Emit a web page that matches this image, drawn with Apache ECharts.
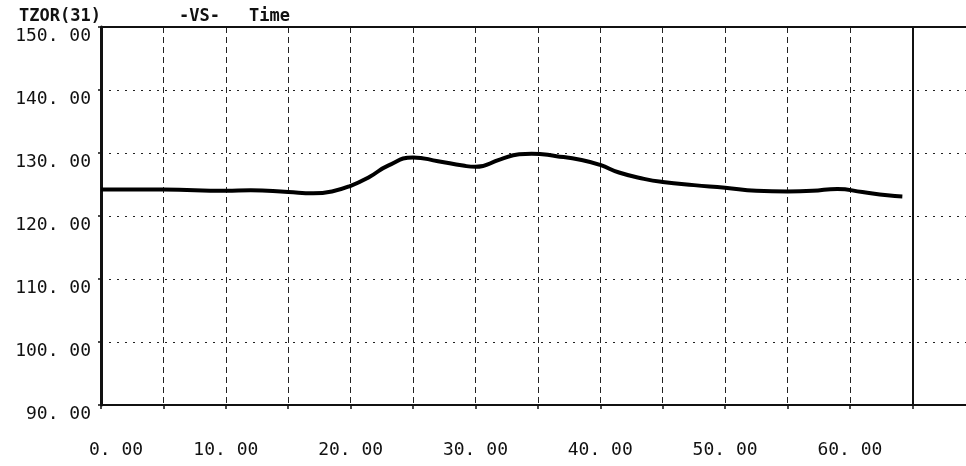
<!doctype html>
<html>
<head>
<meta charset="utf-8">
<title>TZOR(31) -VS- Time</title>
<script type="text/javascript" src="https://cdn.jsdelivr.net/npm/echarts@6/dist/echarts.min.js"></script>
</head>
<body style="margin:0;padding:0;background:#fff">
<div id="tb" style="width:966px;height:466px;"></div>
<script>
// 读图得到的数据
var timeVals = [0, 5, 10, 12, 15, 17, 18.5, 20, 21.5, 23, 25, 27, 29, 30, 32, 33.5, 34.5, 36.5, 38.5, 40, 41.5, 43.5, 45, 47.5, 50, 52.5, 55, 57, 59, 61, 63, 64.2];
var tzorVals = [124.2, 124.2, 124.0, 124.1, 123.8, 123.6, 123.9, 124.8, 126.2, 128.0, 129.3, 128.7, 128.0, 127.8, 129.0, 129.8, 129.9, 129.5, 128.9, 128.1, 126.9, 125.9, 125.4, 124.9, 124.5, 124.0, 123.9, 124.0, 124.3, 123.8, 123.3, 123.1];
var xLabelVals = [0, 10, 20, 30, 40, 50, 60];

var points = timeVals.map(function (t, i) { return [t, tzorVals[i]]; });
var monoFont = 'DejaVu Sans Mono';
var titleStyle = { fontFamily: monoFont, fontSize: 17, fontWeight: 'bold', color: '#111' };

var chart = echarts.init(document.getElementById('tb'));
chart.setOption({
    animation: false,
    backgroundColor: '#fff',
    title: [
        { text: 'TZOR(31)', left: 14, top: 3, textStyle: titleStyle },
        { text: '-VS-', left: 174, top: 3, textStyle: titleStyle },
        { text: 'Time', left: 244, top: 3, textStyle: titleStyle }
    ],
    grid: { left: 101, top: 27, right: -5, bottom: 61, containLabel: false },
    xAxis: {
        type: 'value',
        min: 0,
        max: 69.3,
        interval: 5,
        axisLine: { show: true, onZero: false, lineStyle: { color: '#111', width: 2 } },
        axisTick: { show: true, length: 4, lineStyle: { color: '#111', width: 1.5 } },
        splitLine: { show: true, lineStyle: { color: '#222', width: 1, type: [6, 4] } },
        axisLabel: {
            margin: 36,
            fontFamily: monoFont,
            fontSize: 18,
            color: '#111',
            showMaxLabel: false,
            formatter: function (v) {
                if (xLabelVals.indexOf(v) < 0) return '';
                var s = v.toFixed(2).replace('.', '. ');
                return v === 0 ? '{z|' + s + '}' : s;
            },
            rich: { z: { fontFamily: monoFont, fontSize: 18, color: '#111', padding: [0, 0, 0, 30] } }
        }
    },
    yAxis: {
        type: 'value',
        min: 90,
        max: 150,
        interval: 10,
        axisLine: { show: true, lineStyle: { color: '#111', width: 3 } },
        axisTick: { show: true, length: 3, lineStyle: { color: '#111', width: 1.5 } },
        splitLine: { show: true, lineStyle: { color: '#222', width: 1, type: [2, 6] } },
        axisLabel: {
            margin: 10,
            fontFamily: monoFont,
            fontSize: 18,
            color: '#111',
            verticalAlign: 'top',
            formatter: function (v) { return v.toFixed(2).replace('.', '. '); }
        }
    },
    series: [
        {
            name: 'TZOR(31)',
            type: 'line',
            data: points,
            smooth: 0.5,
            showSymbol: false,
            lineStyle: { color: '#000', width: 4 },
            markLine: {
                silent: true,
                symbol: 'none',
                label: { show: false },
                animation: false,
                lineStyle: { color: '#111', width: 2, type: 'solid' },
                data: [
                    { xAxis: 65 },
                    { yAxis: 150 }
                ]
            }
        }
    ]
});
</script>
</body>
</html>
